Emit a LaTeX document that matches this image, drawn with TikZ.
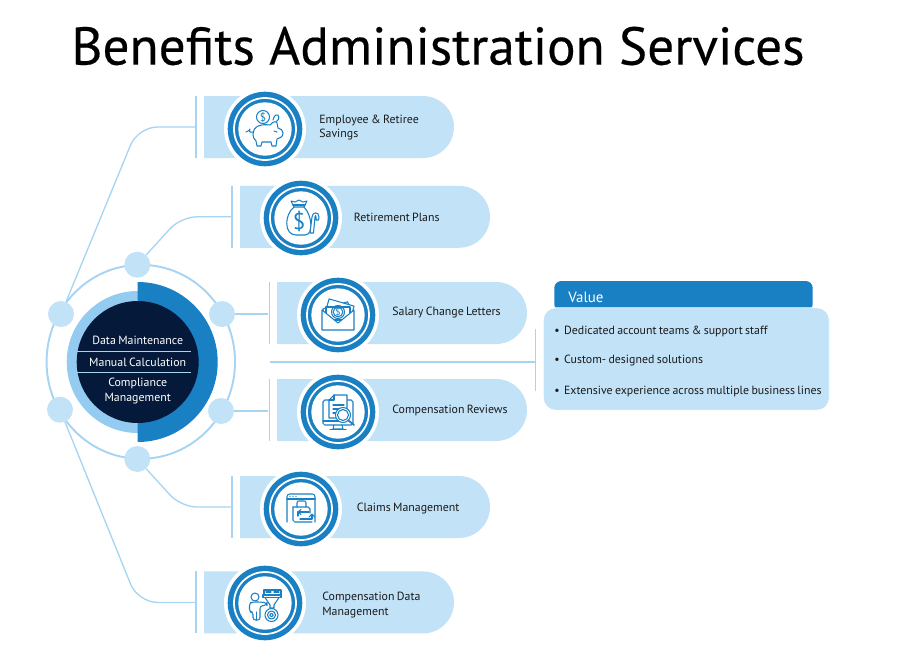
\documentclass[tikz,border=0pt]{standalone}
\usepackage{fontspec}
\setmainfont[WordSpace=0.75]{PT Sans}
\newfontfamily\titlefont[FakeBold=0.3]{PT Sans}
\usetikzlibrary{positioning,shapes.geometric,shapes.misc}
\definecolor{barblue}{HTML}{C2E2F7}
\definecolor{mainblue}{HTML}{1A80C4}
\definecolor{lineblue}{HTML}{A6D4F2}
\definecolor{haloblue}{HTML}{94CBF0}
\definecolor{navy}{HTML}{051A3A}
\definecolor{inkblack}{HTML}{1A1A1A}
\tikzset{
  % icon pictures, offsets in reference pixels from the badge centre
  ic/.style={draw=mainblue, line width=0.6pt, line join=round, line cap=round},
  badge/.pic={
    \fill[white] (0,0) circle (41);
    \fill[mainblue] (0,0) circle (37.3);
    \draw[white, line width=1pt] (0,0) circle (31);
    \fill[white] (0,0) circle (26.7);
  },
  pigicon/.pic={
    \draw[ic] (-2,-12) circle (6.5);
    \node[dollar, font=\fontsize{6.5}{6.5}\selectfont] (pigcash) at (-2,-12) {\$};
    \draw[ic, fill=white] (-12,6) .. controls (-12,-4) and (-3,-5) .. (5,-4)
      .. controls (8,-8) and (12,-8) .. (12,-6) -- (13,-1) .. controls (16,0) and (18,1) .. (18,4)
      .. controls (18,8) and (15,9) .. (12,10) -- (11,17) -- (7,17) -- (6,13)
      -- (-3,13) -- (-4,17) -- (-8,17) -- (-9,12) .. controls (-11,10) and (-12,8) .. (-12,6) -- cycle;
    \draw[ic] (-12,3) .. controls (-15,4) and (-17,2) .. (-15,0);
    \draw[ic] (-15,1) -- (-19,3);
    \draw[ic] (8,-9) .. controls (9,-14) and (12,-15) .. (13,-14) .. controls (15,-11) and (13,-8) .. (11,-7);
    \draw[ic] (9,2) -- (12,3);
  },
  bagicon/.pic={
    \draw[ic] (-7,-11) .. controls (-17,-3) and (-17,17) .. (-5,17) -- (4,17)
      .. controls (13,17) and (11,-3) .. (3,-11) -- cycle;
    \draw[ic] (-7,-11) -- (-10,-17) -- (-6,-16) -- (-2,-18) -- (2,-16) -- (6,-17) -- (3,-11);
    \draw[ic] (-8,-13) -- (4,-13);
    \node[dollar, font=\fontsize{13}{13}\selectfont] (bagcash) at (-2,3) {\$};
    \draw[ic, fill=white] (9,15) -- (11,-1) .. controls (11,-6) and (18,-7) .. (18,-1) -- (17.5,2) -- (15,2)
      -- (15,-1) .. controls (15,-3) and (14,-3) .. (14,-1) -- (12.5,15) -- cycle;
  },
  lettericon/.pic={
    \draw[ic, fill=white, rotate=16] (-13,-10) rectangle (13,3);
    \draw[ic, fill=white, rotate=-16] (-13,-13) rectangle (13,4);
    \draw[ic, fill=white] (-12,-8) rectangle (12,5);
    \draw[ic] (0,-3) circle (6.5);
    \draw[ic] (0,-3) circle (4.8);
    \node[dollar, font=\fontsize{5.5}{5.5}\selectfont] (lettercash) at (0,-3) {\$};
    \draw[ic, fill=white] (-16,-5) -- (0,8) -- (16,-5) -- (16,15) -- (-16,15) -- cycle;
  },
  reviewicon/.pic={
    \draw[ic, rounded corners=1pt] (-15,9) -- (-15,-12) -- (15,-12) -- (15,13) -- (-15,13) -- cycle;
    \draw[ic] (-15,9) -- (4,9);
    \draw[ic] (-4,13) -- (-5,17) -- (5,17) -- (4,13);
    \draw[ic] (-8,17.5) -- (8,17.5);
    \draw[ic, fill=white] (-9,6) -- (-9,-12) -- (-4,-17) -- (9,-17) -- (9,6) -- cycle;
    \draw[ic] (-9,-12) -- (-4,-12) -- (-4,-17);
    \draw[ic] (-5,-7) -- (6,-7);
    \draw[ic] (-5,-3) -- (6,-3);
    \draw[ic] (-5,1) -- (0,1);
    \draw[ic, fill=white] (5,3) circle (7.5);
    \draw[ic] (5,3) circle (5.5);
    \draw[ic, line width=1pt] (10.5,8.5) -- (16,13);
  },
  claimicon/.pic={
    \draw[ic, rounded corners=1.5pt] (-14,13) -- (-14,-15) -- (14,-15) -- (14,13);
    \draw[ic] (-14,-10) -- (14,-10);
    \fill[mainblue] (-11,-12.5) circle (0.7) (-8,-12.5) circle (0.7) (-5,-12.5) circle (0.7);
    \draw[ic, fill=white, rounded corners=1pt] (-8,-2) -- (9,-2) -- (9,4);
    \draw[ic, rounded corners=1pt] (11,13) -- (-8,13) -- (-8,-2);
    \draw[ic] (-4,-2) -- (-4,-6) .. controls (-4,-8) and (-3,-8) .. (-2,-8) -- (3,-8)
      .. controls (4,-8) and (5,-8) .. (5,-6) -- (5,-2);
    % swap arrows
    \draw[ic] (8,3) -- (-3,3) -- (-3,7);
    \draw[ic] (-3,3) -- (0,0.5) (-3,3) -- (0,5.5);
    \draw[ic] (-1,10) -- (11,10) -- (11,6);
    \draw[ic] (11,5) -- (8,8) (11,5) -- (14,8);
  },
  dataicon/.pic={
    \draw[ic] (-10,-6) circle (4);
    \draw[ic, rounded corners=1.5pt] (-12,17) -- (-12,9) -- (-15.5,9) -- (-15.5,0) -- (-12,-1) -- (-4,-1) -- (2,0)
      -- (2,2) -- (-5,3) -- (-5,17) -- cycle;
    \draw[ic] (-8.5,9) -- (-8.5,17);
    \draw[ic] (-1,-13) rectangle (16,-8);
    \draw[ic] (1,-11) -- (6,-11) (9,-11) -- (14,-11);
    \draw[ic] (-2,-8) -- (16,-8) -- (16,-5.5) -- (-2,-5.5) -- cycle;
    \draw[ic] (0,-5.5) -- (5,2) -- (5,5) -- (9,5) -- (9,2) -- (14,-5.5);
    \draw[ic] (6.5,12) circle (6.5);
    \draw[ic] (6.5,12) circle (4);
    \draw[ic] (6.5,12) circle (1.8);
  },
  dollar/.style={text=mainblue, inner sep=0pt},
  bar/.style={rounded rectangle, rounded rectangle west arc=none, fill=barblue, minimum width=5cm, minimum height=1.24cm, inner sep=0pt},
  tick/.style={fill=lineblue, minimum width=0.75pt, minimum height=1.24cm, inner sep=0pt},
  dot/.style={circle, fill=barblue, minimum size=0.52cm, inner sep=0pt},
  conn/.style={draw=lineblue, line width=0.75pt},
  lbl/.style={font=\fontsize{6.75}{8}\selectfont, text=inkblack, anchor=west, align=left, inner sep=0pt},
  core/.style={font=\fontsize{6.75}{8}\selectfont, text=white, inner sep=0pt, align=center}
}
\begin{document}
\begin{tikzpicture}[x=0.02cm, y=-0.02cm]
  \useasboundingbox (0,0) rectangle (900,650);
  \node[font=\fontsize{30.3}{34}\titlefont, text=black, inner sep=0pt] (title) at (438,46) {Benefits Administration Services};

  % hub
  \node[ellipse, draw=lineblue, line width=1.1pt, minimum width=3.77cm, minimum height=3.88cm, inner sep=0pt] (ring) at (140.8,361.8) {};
  \node[circle, fill=haloblue, minimum size=2.84cm, inner sep=0pt] (halo) at (137.7,362) {};
  \coordinate (halftop) at (137.7,282);
  \fill[mainblue] (halftop) arc (-90:90:80) -- cycle;
  \node[circle, fill=navy, minimum size=2.44cm, inner sep=0pt] (hub) at (137.7,362) {};
  \coordinate (rulea) at (76.7,351.7);
  \coordinate (ruleb) at (190.7,351.7);
  \coordinate (rulec) at (76.7,372.3);
  \coordinate (ruled) at (190.7,372.3);
  \draw[lineblue, line width=0.75pt] (rulea) -- (ruleb);
  \draw[lineblue, line width=0.75pt] (rulec) -- (ruled);
  \node[core] (maint) at (137.7,340) {Data Maintenance};
  \node[core] (manual) at (137.7,362.5) {Manual Calculation};
  \node[core] (comply) at (137.7,391) {Compliance\\Management};

  % bars, ticks and badges
  \node[bar] (savings) at (329,127) {};
  \node[tick] (tsavings) at (196,127) {};
  \node[bar] (plans) at (365,216.8) {};
  \node[tick] (tplans) at (232,216.8) {};
  \node[bar] (letters) at (402,313) {};
  \node[tick] (tletters) at (269.5,313) {};
  \node[bar] (reviews) at (402,410) {};
  \node[tick] (treviews) at (269.5,410) {};
  \node[bar] (claims) at (365,507) {};
  \node[tick] (tclaims) at (232,507) {};
  \node[bar] (data) at (329,602.4) {};
  \node[tick] (tdata) at (196,602.4) {};

  \pic at (265,129) {badge};
  \pic at (265,129) {pigicon};
  \pic at (301,218) {badge};
  \pic at (301,218) {bagicon};
  \pic at (338,315) {badge};
  \pic at (338,315) {lettericon};
  \pic at (338,412) {badge};
  \pic at (338,412) {reviewicon};
  \pic at (301,509) {badge};
  \pic at (301,509) {claimicon};
  \pic at (265,603) {badge};
  \pic at (265,603) {dataicon};

  \node[lbl] (tsav) at (319,127.5) {Employee \& Retiree\\Savings};
  \node[lbl] (tpla) at (353.5,217) {Retirement Plans};
  \node[lbl] (tlet) at (392,313) {Salary Change Letters};
  \node[lbl] (trev) at (392,410) {Compensation Reviews};
  \node[lbl] (tcla) at (356.5,509) {Claims Management};
  \node[lbl] (tdat) at (322,605) {Compensation Data\\Management};

  % connectors
  \coordinate (bendsav) at (138,127);
  \coordinate (bendpla) at (181,216.8);
  \coordinate (bendcla) at (181,507);
  \coordinate (benddat) at (138,602.4);
  \node[dot] (dotnw) at (61,314) {};
  \node[dot] (dotn) at (137.3,264.7) {};
  \node[dot] (dotne) at (222,314) {};
  \node[dot] (dotse) at (221,411) {};
  \node[dot] (dots) at (137.3,459) {};
  \node[dot] (dotsw) at (60,409.7) {};
  \draw[conn, rounded corners=11pt] (dotnw) -- (bendsav) -- (tsavings);
  \draw[conn, rounded corners=9pt] (dotn) -- (bendpla) -- (tplans);
  \draw[conn] (dotne) -- (tletters.west |- dotne);
  \draw[conn] (dotse) -- (treviews.west |- dotse);
  \draw[conn, rounded corners=9pt] (dots) -- (bendcla) -- (tclaims);
  \draw[conn, rounded corners=11pt] (dotsw) -- (benddat) -- (tdata);

  % value panel
  \node[fill=mainblue, rounded corners=4pt, minimum width=5.17cm, minimum height=0.6cm, inner sep=0pt] (valuehead) at (683.5,296) {};
  \node[draw=white, line width=0.4pt, fill=barblue, rounded corners=7pt, minimum width=5.72cm, minimum height=2.05cm, inner sep=0pt] (valuebody) at (686.3,359) {};
  \node[font=\fontsize{8.5}{10}\selectfont, text=white, anchor=west, inner sep=0pt] (valuelabel) at (568,297) {Value};
  \node[lbl] (vala) at (554,331) {•\hspace{2.5pt}Dedicated account teams \& support staff};
  \node[lbl] (valb) at (554,361) {•\hspace{2.5pt}Custom- designed solutions};
  \node[lbl] (valc) at (554,391) {•\hspace{2.5pt}Extensive experience across multiple business lines};

  \node[tick, minimum height=1.24cm] (tvalue) at (535.7,360) {};
  \coordinate (linkstart) at (269.5,362);
  \draw[conn] (linkstart) -- (linkstart -| tvalue);
\end{tikzpicture}
\end{document}
